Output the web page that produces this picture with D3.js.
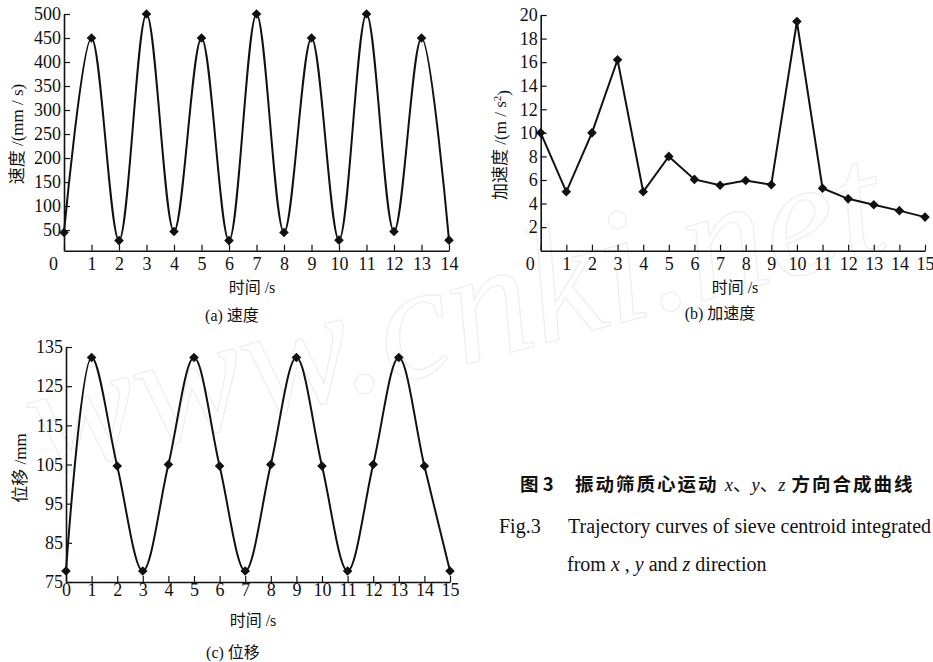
<!DOCTYPE html>
<html>
<head>
<meta charset="utf-8">
<script src="https://cdn.jsdelivr.net/npm/d3@7"></script>
<style>
  body { margin: 0; background: #fff; }
  svg text { font-family: "Liberation Serif", "Noto Sans CJK SC", serif; fill: #111; }
</style>
</head>
<body>
<div id="wrapper"></div>
<script>
// DATA
const timeA = [0, 1, 2, 3, 4, 5, 6, 7, 8, 9, 10, 11, 12, 13, 14]
const speed = [45, 450, 28, 500, 47, 450, 28, 500, 45, 450, 29, 500, 47, 450, 29]
const speedTicks = [50, 100, 150, 200, 250, 300, 350, 400, 450, 500]

const timeB = [0, 1, 2, 3, 4, 5, 6, 7, 8, 9, 10, 11, 12, 13, 14, 15]
const accel = [10, 5, 10, 16.2, 5, 8, 6.05, 5.55, 5.95, 5.6, 19.45, 5.3, 4.4, 3.9, 3.4, 2.85]
const accelTicks = [2, 4, 6, 8, 10, 12, 14, 16, 18, 20]

const timeC = [0, 1, 2, 3, 4, 5, 6, 7, 8, 9, 10, 11, 12, 13, 14, 15]
const displacement = [77.8, 132.3, 104.6, 77.8, 105, 132.3, 104.6, 77.8, 105, 132.3, 104.6, 77.8, 105, 132.3, 104.6, 77.8]
const dispTicks = [75, 85, 95, 105, 115, 125, 135]

const width = 933
const height = 662

const svg = d3.select('#wrapper')
  .append('svg')
  .attr('width', width)
  .attr('height', height)

svg.append('rect').attr('width', width).attr('height', height).attr('fill', '#fff')

// faint watermark behind everything
svg.append('text')
  .attr('transform', 'translate(42,478) rotate(-15)')
  .attr('textLength', 880)
  .attr('lengthAdjust', 'spacingAndGlyphs')
  .style('font-size', '165px')
  .style('font-style', 'italic')
  .style('fill', 'none')
  .attr('stroke', '#eeeeee')
  .attr('stroke-width', 1.2)
  .text('www.cnki.net')

function drawPanel(cfg) {
  const xScale = d3.scaleLinear()
    .domain([cfg.time[0], cfg.time[cfg.time.length - 1]])
    .range(cfg.xRange)

  const yScale = d3.scaleLinear()
    .domain(cfg.yDomain)
    .range(cfg.yRange)

  const g = svg.append('g')

  // AXES (ticks point inward)
  const xAxis = g.append('g')
    .attr('transform', `translate(0,${cfg.yRange[0]})`)
    .call(d3.axisBottom(xScale)
      .tickValues(cfg.time)
      .tickFormat(d3.format('d'))
      .tickSizeInner(-6)
      .tickSizeOuter(0)
      .tickPadding(cfg.xPad))

  const yAxis = g.append('g')
    .attr('transform', `translate(${cfg.xRange[0]},0)`)
    .call(d3.axisLeft(yScale)
      .tickValues(cfg.yTicks)
      .tickSizeInner(-6)
      .tickSizeOuter(0)
      .tickPadding(3))

  g.selectAll('.domain').attr('stroke', '#111').attr('stroke-width', 1.6)
  g.selectAll('.tick line').attr('stroke', '#111').attr('stroke-width', 1.2)
  g.selectAll('.tick text')
    .attr('font-family', null)
    .style('font-size', '18px')
  xAxis.attr('font-size', null).attr('font-family', null)
  yAxis.attr('font-size', null).attr('font-family', null)

  if (cfg.zeroShift) {
    xAxis.selectAll('.tick text').filter(d => d === 0).attr('x', -cfg.zeroShift)
  }

  const lineGenerator = d3.line()
    .x((d, i) => xScale(cfg.time[i]))
    .y(d => yScale(d))
    .curve(cfg.curve)

  g.append('path')
    .attr('d', lineGenerator(cfg.values))
    .attr('fill', 'none')
    .attr('stroke', '#111')
    .attr('stroke-width', 2)

  g.selectAll('.marker')
    .data(cfg.values)
    .join('path')
    .attr('class', 'marker')
    .attr('d', d3.symbol(d3.symbolSquare, 46))
    .attr('transform', (d, i) => `translate(${xScale(cfg.time[i])},${yScale(d)}) rotate(45)`)
    .attr('fill', '#111')

  // labels
  g.append('text')
    .attr('x', cfg.xTitle[0])
    .attr('y', cfg.xTitle[1])
    .attr('text-anchor', 'middle')
    .style('font-size', '16px')
    .text('时间 /s')

  g.append('text')
    .attr('x', cfg.caption[0])
    .attr('y', cfg.caption[1])
    .attr('text-anchor', 'middle')
    .style('font-size', '16px')
    .text(cfg.captionText)

  const yLabel = g.append('text')
    .attr('transform', `translate(${cfg.yTitle[0]},${cfg.yTitle[1]}) rotate(-90)`)
    .attr('text-anchor', 'middle')
    .attr('dy', '0.35em')
    .style('font-size', '17px')
  cfg.yTitleParts(yLabel)
}

drawPanel({
  time: timeA, values: speed, yDomain: [7, 500], yTicks: speedTicks,
  xRange: [64, 449], yRange: [250.7, 14], xPad: 7, zeroShift: 11,
  curve: d3.curveCatmullRom,
  xTitle: [252, 293], caption: [232, 321], captionText: '(a) 速度',
  yTitle: [17, 134],
  yTitleParts: t => t.text('速度 /(mm / s)')
})

drawPanel({
  time: timeB, values: accel, yDomain: [0, 20], yTicks: accelTicks,
  xRange: [540.7, 925], yRange: [250.7, 15], xPad: 7, zeroShift: 11,
  curve: d3.curveLinear,
  xTitle: [735, 293], caption: [720, 319], captionText: '(b) 加速度',
  yTitle: [500, 145],
  yTitleParts: t => {
    t.append('tspan').text('加速度 /(m / s')
    t.append('tspan').attr('dy', '-0.45em').style('font-size', '11px').text('2')
    t.append('tspan').attr('dy', '0.45em').text(')')
  }
})

drawPanel({
  time: timeC, values: displacement, yDomain: [75, 135], yTicks: dispTicks,
  xRange: [66, 450], yRange: [582, 347], xPad: 1, zeroShift: 0,
  curve: d3.curveCatmullRom,
  xTitle: [253, 626], caption: [233, 658], captionText: '(c) 位移',
  yTitle: [20, 468],
  yTitleParts: t => t.text('位移 /mm')
})

// FIGURE CAPTION
const capCn = svg.append('text')
  .attr('x', 520)
  .attr('y', 491)
  .style('font-size', '18.5px')
  .style('font-weight', 'bold')
  .style('font-family', '"Noto Sans CJK SC", sans-serif')
capCn.append('tspan').text('图 3')
capCn.append('tspan').attr('x', 575).style('letter-spacing', '2px').text('振动筛质心运动 ')
capCn.append('tspan').style('font-family', '"Liberation Serif", serif').style('font-style', 'italic').style('font-weight', 'normal').text('x')
capCn.append('tspan').style('font-weight', 'normal').text('、')
capCn.append('tspan').style('font-family', '"Liberation Serif", serif').style('font-style', 'italic').style('font-weight', 'normal').text('y')
capCn.append('tspan').style('font-weight', 'normal').text('、')
capCn.append('tspan').style('font-family', '"Liberation Serif", serif').style('font-style', 'italic').style('font-weight', 'normal').text('z')
capCn.append('tspan').style('letter-spacing', '2px').text(' 方向合成曲线')

const capEn1 = svg.append('text')
  .attr('x', 499)
  .attr('y', 533)
  .style('font-size', '20px')
capEn1.append('tspan').text('Fig.3')
capEn1.append('tspan').attr('x', 568).text('Trajectory curves of sieve centroid integrated')

const capEn2 = svg.append('text')
  .attr('x', 567)
  .attr('y', 571)
  .style('font-size', '20px')
capEn2.append('tspan').text('from ')
capEn2.append('tspan').style('font-style', 'italic').text('x')
capEn2.append('tspan').text(' , ')
capEn2.append('tspan').style('font-style', 'italic').text('y')
capEn2.append('tspan').text(' and ')
capEn2.append('tspan').style('font-style', 'italic').text('z')
capEn2.append('tspan').text(' direction')
</script>
</body>
</html>
